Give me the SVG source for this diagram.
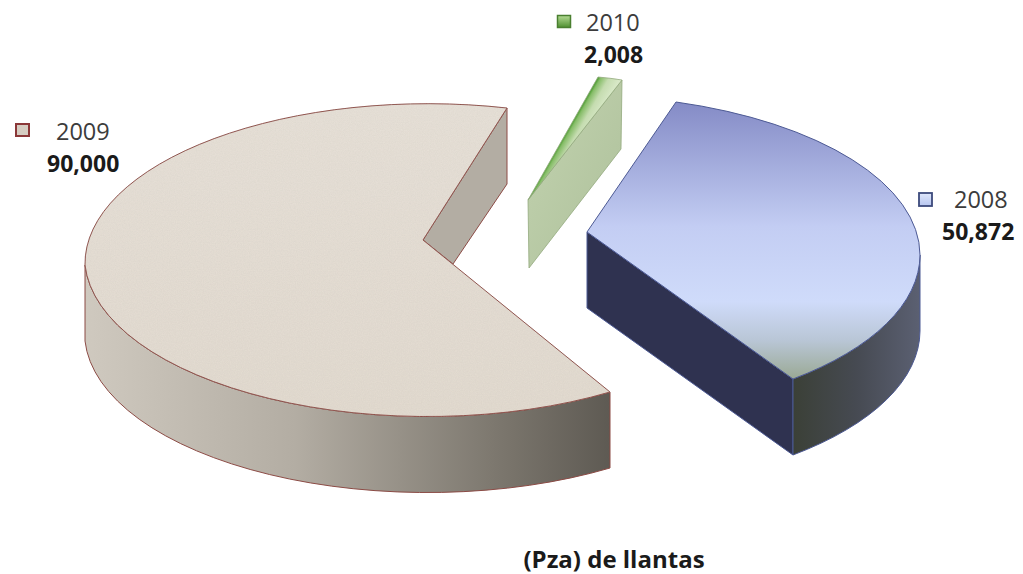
<svg xmlns="http://www.w3.org/2000/svg" width="1023" height="574" viewBox="0 0 1023 574">
<style>
.lbl{font-family:"Open Sans","Liberation Sans",sans-serif;font-size:23.5px;fill:#3c3c3c}
.val{font-family:"Open Sans","Liberation Sans",sans-serif;font-size:23px;font-weight:bold;fill:#1a1a1a}
.ttl{font-family:"Open Sans","Liberation Sans",sans-serif;font-size:24px;font-weight:bold;fill:#1a1a1a}
.beigeEdge{stroke:#8c4b45;stroke-width:1;stroke-linejoin:round}
.blueEdge{stroke:#4d5a94;stroke-width:1;stroke-linejoin:round}
.greenEdge{stroke:#93a97e;stroke-width:0.8;stroke-linejoin:round}
</style>
<defs>
<filter id="noise" x="0" y="0" width="1" height="1">
<feTurbulence type="fractalNoise" baseFrequency="0.85" numOctaves="2" seed="3" result="t"/>
<feColorMatrix in="t" type="matrix" values="0 0 0 0 0.5  0 0 0 0 0.47  0 0 0 0 0.43  0 0 0 0.25 -0.05" result="n"/>
<feComposite in="n" in2="SourceGraphic" operator="in" result="nc"/>
<feMerge><feMergeNode in="SourceGraphic"/><feMergeNode in="nc"/></feMerge>
</filter>
<linearGradient id="beigeTop" x1="0" y1="0" x2="0" y2="1">
<stop offset="0" stop-color="#e6e0d7"/><stop offset="1" stop-color="#e2dacf"/>
</linearGradient>
<linearGradient id="beigeSide" gradientUnits="userSpaceOnUse" x1="85" y1="0" x2="610" y2="0">
<stop offset="0" stop-color="#cfc9bf"/><stop offset="0.4" stop-color="#b3ada3"/><stop offset="0.8" stop-color="#7a756c"/><stop offset="1" stop-color="#5e5a53"/>
</linearGradient>
<linearGradient id="blueTop" gradientUnits="userSpaceOnUse" x1="0" y1="102" x2="0" y2="379">
<stop offset="0" stop-color="#848bc6"/><stop offset="0.45" stop-color="#c3cdf3"/><stop offset="0.72" stop-color="#cfdbfa"/><stop offset="0.86" stop-color="#b9c6d6"/><stop offset="1" stop-color="#9aa994"/>
</linearGradient>
<linearGradient id="blueSide" gradientUnits="userSpaceOnUse" x1="793" y1="0" x2="920" y2="0">
<stop offset="0" stop-color="#3b4037"/><stop offset="0.5" stop-color="#464a52"/><stop offset="1" stop-color="#5b6072"/>
</linearGradient>
<linearGradient id="greenTop" gradientUnits="userSpaceOnUse" x1="563" y1="138" x2="582" y2="149">
<stop offset="0" stop-color="#4a9a30"/><stop offset="0.12" stop-color="#86bd68"/><stop offset="0.45" stop-color="#c5dcb0"/><stop offset="1" stop-color="#dcebcc"/>
</linearGradient>
<linearGradient id="greenFront" x1="0" y1="0" x2="1" y2="1">
<stop offset="0" stop-color="#c3d3b0"/><stop offset="1" stop-color="#adc09a"/>
</linearGradient>
<linearGradient id="sqGreen" x1="0" y1="0" x2="0" y2="1">
<stop offset="0" stop-color="#b5dc95"/><stop offset="1" stop-color="#4f8f30"/>
</linearGradient>
<linearGradient id="sqBlue" x1="0" y1="0" x2="0" y2="1">
<stop offset="0" stop-color="#dfe7fb"/><stop offset="1" stop-color="#b7c6f0"/>
</linearGradient>
</defs>
<rect width="1023" height="574" fill="#ffffff"/>

<g id="slice-2009">
<path d="M85,265 A343,160 0 0,0 610,392 L610,468 A343,160 0 0,1 85,341 Z" fill="url(#beigeSide)" class="beigeEdge"/>
<path d="M423,240 L507,108 L507,184 L453,264 Z" fill="#b3ada3" class="beigeEdge"/>
<path d="M423,240 L507,108 A343,160 0 0,0 85,265 A343,160 0 0,0 610,392 Z" fill="url(#beigeTop)" class="beigeEdge" filter="url(#noise)"/>
</g>

<g id="slice-2010">
<path d="M528,200 L622,80 L621,149 L529,268 Z" fill="url(#greenFront)" class="greenEdge"/>
<path d="M528,200 L598,77 Q610,78 622,80 Z" fill="url(#greenTop)" class="greenEdge"/>
</g>

<g id="slice-2008">
<path d="M587,232 L793,379 L793,455 L587,308 Z" fill="#2f3250" class="blueEdge"/>
<path d="M920,255 A343,160 0 0,1 793,379 L793,455 A343,160 0 0,0 920,331 Z" fill="url(#blueSide)" class="blueEdge"/>
<path d="M587,232 L676,102 A343,160 0 0,1 920,255 A343,160 0 0,1 793,379 Z" fill="url(#blueTop)" class="blueEdge"/>
</g>

<g id="label-2010">
<rect x="557.5" y="15.5" width="13" height="12" fill="url(#sqGreen)" stroke="#4a7f30" stroke-width="1.5"/>
<text class="lbl" x="586" y="31">2010</text>
<text class="val" x="584" y="63">2,008</text>
</g>
<g id="label-2009">
<rect x="16" y="124" width="13" height="12" fill="#d6cdc2" stroke="#8b3838" stroke-width="2"/>
<text class="lbl" x="56" y="140">2009</text>
<text class="val" x="47" y="172">90,000</text>
</g>
<g id="label-2008">
<rect x="919" y="193" width="13" height="13" fill="url(#sqBlue)" stroke="#3c4a7c" stroke-width="1.8"/>
<text class="lbl" x="954" y="208">2008</text>
<text class="val" x="942" y="240">50,872</text>
</g>
<g id="title">
<text class="ttl" x="614" y="568" text-anchor="middle">(Pza) de llantas</text>
</g>
<g id="connectors"/>
</svg>
